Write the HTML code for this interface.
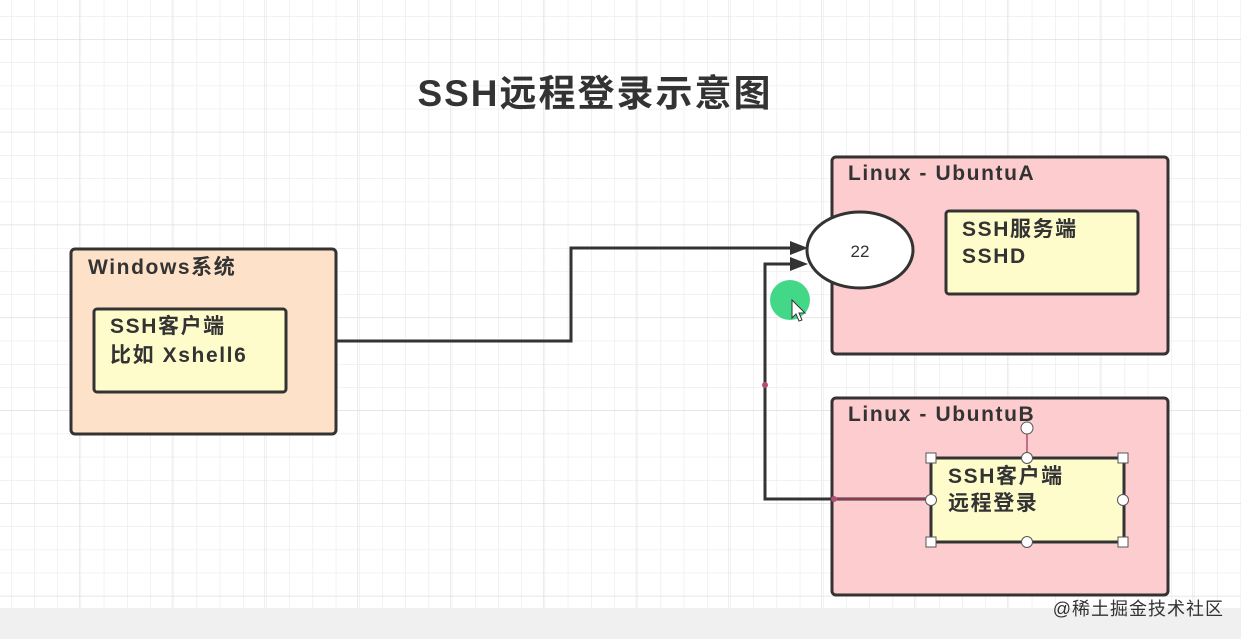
<!DOCTYPE html>
<html><head><meta charset="utf-8"><style>
html,body{margin:0;padding:0;width:1241px;height:639px;overflow:hidden;background:#fff}
svg{display:block}
text{font-family:"Liberation Sans","Noto Sans CJK SC",sans-serif;font-weight:bold;fill:#333}
.t{font-size:21px;letter-spacing:1.6px}
</style></head><body>
<svg width="1241" height="639" viewBox="0 0 1241 639">
<defs>
<pattern id="g" x="11" y="16" width="23.2" height="23.2" patternUnits="userSpaceOnUse">
<path d="M0 0H23.2M0 0V23.2" stroke="#e6e6e6" stroke-width="1" fill="none"/>
</pattern>
<pattern id="g2" x="79" y="39" width="92.8" height="92.8" patternUnits="userSpaceOnUse">
<path d="M0 0H92.8M0 0V92.8" stroke="#dadada" stroke-width="1" fill="none"/>
</pattern>
</defs>
<rect width="1241" height="608" fill="url(#g)"/>
<rect width="1241" height="608" fill="url(#g2)"/>
<rect y="608" width="1241" height="31" fill="#f0f0f0"/>
<text x="1224" y="615" font-size="18" style="font-weight:normal;letter-spacing:1px" fill="#c4c4c4" text-anchor="end">@稀土掘金技术社区</text>

<text x="595" y="106" font-size="37" style="letter-spacing:2px" text-anchor="middle" fill="#333">SSH远程登录示意图</text>

<!-- Windows -->
<rect x="71" y="249" width="265" height="185" rx="4" fill="#fde1c9" stroke="#333" stroke-width="3"/>
<text x="88" y="274" class="t">Windows系统</text>
<rect x="94" y="309" width="192" height="83" rx="3" fill="#fffccc" stroke="#333" stroke-width="3"/>
<text x="110" y="333" class="t">SSH客户端</text>
<text x="110" y="362" class="t">比如 Xshell6</text>

<!-- UbuntuA -->
<rect x="832" y="157" width="336" height="197" rx="4" fill="#fdcccf" stroke="#333" stroke-width="3"/>
<text x="848" y="180" class="t">Linux - UbuntuA</text>
<rect x="946" y="211" width="192" height="83" rx="3" fill="#fffccc" stroke="#333" stroke-width="3"/>
<text x="962" y="236" class="t">SSH服务端</text>
<text x="962" y="263" class="t">SSHD</text>

<!-- UbuntuB -->
<rect x="832" y="398" width="336" height="197" rx="4" fill="#fdcccf" stroke="#333" stroke-width="3"/>
<text x="848" y="421" class="t">Linux - UbuntuB</text>
<rect x="931" y="458" width="193" height="84" fill="#fffccc" stroke="#333" stroke-width="3"/>
<text x="948" y="483" class="t">SSH客户端</text>
<text x="948" y="510" class="t">远程登录</text>

<!-- connectors -->
<polyline points="336,341 571,341 571,248 796,248" fill="none" stroke="#333" stroke-width="3"/>
<polygon points="808,248 790,241 790,255" fill="#333"/>
<polyline points="931,499 765,499 765,264 796,264" fill="none" stroke="#333" stroke-width="3"/>
<polygon points="808,264 790,257 790,271" fill="#333"/>
<line x1="833" y1="499" x2="931" y2="499" stroke="#8b3a55" stroke-width="2"/>
<circle cx="765" cy="385" r="3" fill="#b05070"/>
<circle cx="834" cy="499" r="3" fill="#b05070"/>

<!-- ellipse 22 -->
<ellipse cx="860" cy="250" rx="53" ry="38" fill="#fff" stroke="#333" stroke-width="3"/>
<text x="860" y="257" font-size="17" text-anchor="middle" style="font-weight:normal">22</text>

<!-- cursor -->
<circle cx="790" cy="300" r="20" fill="#2ed47a" opacity="0.9"/>
<path d="M792 300 L792 318 L796 314 L799 321 L802 320 L799 313 L805 313 Z" fill="#fff" stroke="#333" stroke-width="1"/>

<!-- selection handles -->
<line x1="1027" y1="428" x2="1027" y2="458" stroke="#b05070" stroke-width="1.5"/>
<circle cx="1027" cy="428" r="6" fill="#fff" stroke="#555" stroke-width="1"/>
<g fill="#fff" stroke="#555" stroke-width="1">
<rect x="926" y="453" width="10" height="10"/><rect x="1118" y="453" width="10" height="10"/>
<rect x="926" y="537" width="10" height="10"/><rect x="1118" y="537" width="10" height="10"/>
<circle cx="1027" cy="458" r="5.5"/><circle cx="1027" cy="542" r="5.5"/>
<circle cx="931" cy="500" r="5.5"/><circle cx="1123" cy="500" r="5.5"/>
</g>
</svg>
</body></html>
